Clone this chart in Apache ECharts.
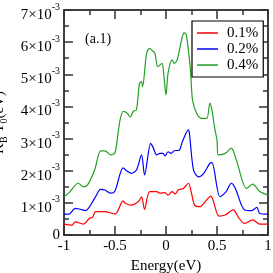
<!DOCTYPE html>
<html><head><meta charset="utf-8">
<script src="https://cdn.jsdelivr.net/npm/echarts@6/dist/echarts.min.js"></script>
<style>html,body{margin:0;padding:0;background:#fff}#c{width:273px;height:273px}</style>
</head><body><div id="c"></div>
<script>
// values in units of 1e-3 eV
const seriesNames = ['0.1%', '0.2%', '0.4%'];
const xRed = [-1.00,-0.92,-0.89,-0.81,-0.75,-0.72,-0.69,-0.60,-0.50,-0.42,-0.40,-0.34,-0.27,-0.24,-0.21,-0.16,-0.09,-0.06,-0.01,0.02,0.06,0.09,0.12,0.17,0.22,0.25,0.28,0.33,0.38,0.44,0.46,0.52,0.58,0.66,0.71,0.77,0.85,0.92,1.00];
const yRed = [0.34,0.31,0.41,0.34,0.52,0.55,0.73,0.73,0.65,1.06,0.99,0.93,1.04,1.19,0.80,1.35,1.35,1.30,1.32,1.24,1.35,1.28,1.40,1.45,1.61,1.30,0.93,0.88,1.02,1.21,1.10,0.59,0.62,0.78,0.55,0.36,0.47,0.34,0.34];
const xBlue = [-1.00,-0.95,-0.89,-0.84,-0.79,-0.70,-0.64,-0.60,-0.54,-0.50,-0.42,-0.38,-0.34,-0.29,-0.24,-0.21,-0.15,-0.13,-0.09,-0.06,-0.03,-0.01,0.02,0.05,0.08,0.13,0.16,0.22,0.23,0.27,0.32,0.37,0.43,0.45,0.53,0.59,0.64,0.68,0.77,0.84,0.89,0.92,1.00];
const yBlue = [0.65,0.65,0.83,0.80,0.76,1.14,1.42,1.40,1.30,1.37,2.09,1.98,1.92,2.02,2.49,1.87,2.85,2.75,2.49,2.54,2.54,2.46,2.59,2.54,2.62,2.64,2.90,3.27,3.15,2.02,1.81,1.92,2.23,2.25,1.19,1.35,1.61,1.45,0.78,0.76,0.86,0.67,0.65];
const xGreen = [-1.00,-0.95,-0.86,-0.81,-0.77,-0.70,-0.64,-0.60,-0.54,-0.50,-0.47,-0.45,-0.42,-0.38,-0.35,-0.32,-0.29,-0.26,-0.24,-0.23,-0.19,-0.16,-0.14,-0.11,-0.08,-0.04,-0.02,0.00,0.02,0.06,0.08,0.11,0.16,0.18,0.20,0.24,0.26,0.30,0.35,0.40,0.43,0.45,0.48,0.50,0.51,0.58,0.64,0.69,0.79,0.85,0.92,1.00];
const yGreen = [1.19,1.32,1.61,1.50,1.55,2.02,2.62,2.62,2.49,2.56,3.17,3.58,3.85,3.79,3.67,3.85,3.89,4.72,4.77,4.61,5.65,5.81,5.75,5.66,5.24,5.34,4.93,4.36,5.03,5.45,5.34,5.45,6.17,6.29,6.22,5.13,4.20,3.79,3.63,3.63,4.10,3.89,3.27,2.96,2.49,2.54,2.70,2.33,1.45,1.58,1.35,1.24];
const yTicks = [0,1,2,3,4,5,6,7];
const xTicks = [-1,-0.5,0,0.5,1];

const colors = ['#ff0000', '#0000ff', '#22a022'];
const FONT = '"Liberation Serif", "DejaVu Serif", serif';
const zip = (xs, ys) => xs.map((x, i) => [x, ys[i]]);

const chart = echarts.init(document.getElementById('c'), null, {renderer: 'canvas'});
const tickCommon = {
  axisLine: {show: true, onZero: false, lineStyle: {color: '#000', width: 1.5}},
  axisTick: {show: true, inside: true, length: 9, lineStyle: {color: '#333', width: 1.5}},
  minorTick: {show: true, splitNumber: 2, length: 5, lineStyle: {color: '#333', width: 1.5}},
  splitLine: {show: false}
};
const option = {
  animation: false,
  backgroundColor: '#fff',
  grid: {left: 64, top: 10, right: 5, bottom: 38, containLabel: false, outerBoundsMode: 'none'},
  legend: {
    data: seriesNames,
    left: 192, top: 21,
    orient: 'vertical',
    backgroundColor: '#fff',
    borderColor: '#000', borderWidth: 1.2,
    padding: [4, 5, 4, 5],
    itemGap: 0,
    itemWidth: 21, itemHeight: 1.5,
    icon: 'rect',
    textStyle: {fontFamily: FONT, fontSize: 15, color: '#000', lineHeight: 16, padding: [0, 0, 0, 4]}
  },
  graphic: [{
    type: 'text', left: 85, top: 32,
    style: {text: '(a.1)', font: '14px ' + FONT, fill: '#000'}
  }],
  xAxis: [
    Object.assign({
      type: 'value', min: -1, max: 1, interval: 0.5, position: 'bottom',
      name: 'Energy(eV)', nameLocation: 'middle', nameGap: 23,
      nameTextStyle: {fontFamily: FONT, fontSize: 15, color: '#000'},
      axisLabel: {fontFamily: FONT, fontSize: 15, color: '#000', margin: 4,
        formatter: v => xTicks.includes(v) ? String(v) : ''}
    }, tickCommon),
    Object.assign({
      type: 'value', min: -1, max: 1, interval: 0.5, position: 'top',
      axisLabel: {show: false}
    }, tickCommon)
  ],
  yAxis: [
    Object.assign({
      type: 'value', min: 0, max: 7, interval: 1, position: 'left',
      name: '{m|K}{s|B}{m| T}{s|0}{m|(eV)}', nameLocation: 'middle', nameGap: 46, nameRotate: 90,
      nameTextStyle: {fontFamily: FONT, fontSize: 15, color: '#000',
        rich: {
          m: {fontFamily: FONT, fontSize: 15, color: '#000'},
          s: {fontFamily: FONT, fontSize: 10, color: '#000', padding: [12, 0, 0, 0]}
        }},
      axisLabel: {margin: 4, color: '#000', fontFamily: FONT, fontSize: 15,
        formatter: v => {
          if (!yTicks.includes(v)) return '';
          if (v === 0) return '{z|0}';
          return '{m|' + v + '×10}{s|-3}';
        },
        rich: {
          z: {fontFamily: FONT, fontSize: 15, color: '#000'},
          m: {fontFamily: FONT, fontSize: 15, color: '#000', padding: [10, 0, 0, 0]},
          s: {fontFamily: FONT, fontSize: 10, color: '#000', padding: [0, 0, 6, 0]}
        }}
    }, tickCommon),
    Object.assign({
      type: 'value', min: 0, max: 7, interval: 1, position: 'right',
      axisLabel: {show: false}
    }, tickCommon)
  ],
  series: [
    {name: seriesNames[0], type: 'line', data: zip(xRed, yRed), smooth: 0.3, showSymbol: false, symbol: 'none', color: colors[0], lineStyle: {width: 1.2}, z: 3},
    {name: seriesNames[1], type: 'line', data: zip(xBlue, yBlue), smooth: 0.3, showSymbol: false, symbol: 'none', color: colors[1], lineStyle: {width: 1.2}, z: 3},
    {name: seriesNames[2], type: 'line', data: zip(xGreen, yGreen), smooth: 0.3, showSymbol: false, symbol: 'none', color: colors[2], lineStyle: {width: 1.2}, z: 3}
  ]
};
chart.setOption(option);
</script>
</body></html>
